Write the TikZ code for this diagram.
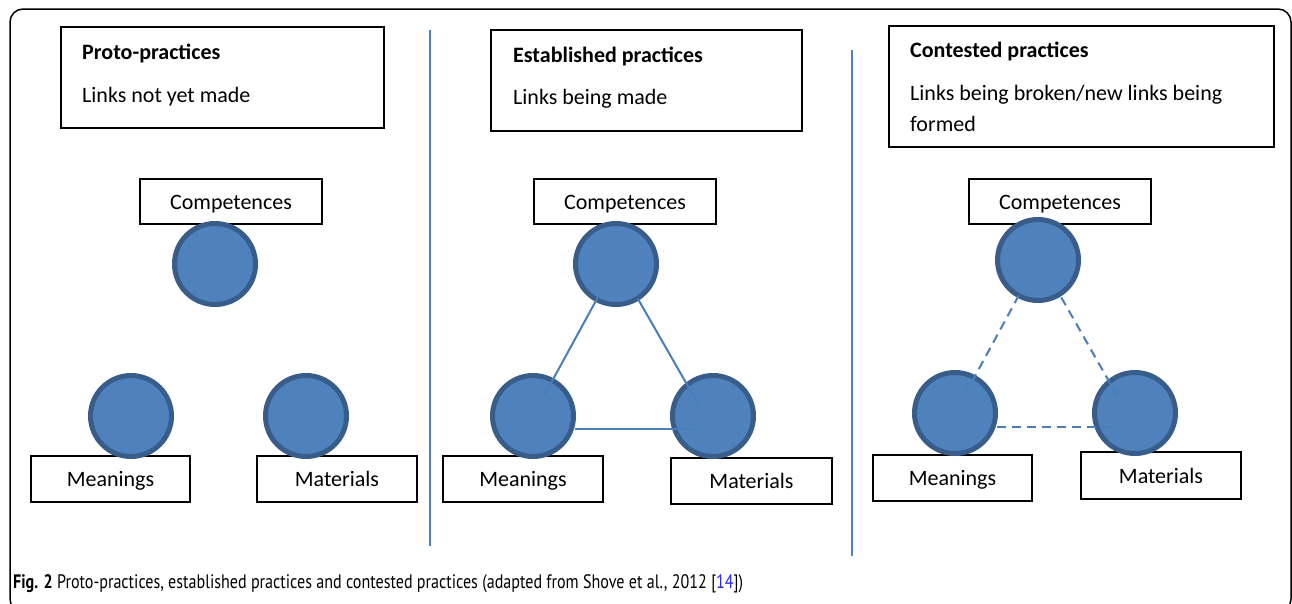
\documentclass[tikz,border=0pt]{standalone}
\usepackage{fontspec}
\setmainfont{Carlito}
\newfontfamily\capfont{PT Sans}
\definecolor{circfill}{RGB}{79,129,189}
\definecolor{circdraw}{RGB}{56,93,138}
\definecolor{linkblue}{RGB}{74,126,187}
\definecolor{refblue}{RGB}{40,40,230}
\begin{document}
\begin{tikzpicture}[x=1pt,y=-1pt,
  every node/.style={font=\fontsize{22}{26}\selectfont},
  labelbox/.style={draw=black,line width=1.5pt,fill=white,rectangle,inner sep=0pt,text height=17pt,text depth=2pt},
  headbox/.style={draw=black,line width=1.5pt,fill=white,rectangle,inner sep=0pt},
  headtext/.style={anchor=base west,inner sep=0pt},
  ball/.style={circle,fill=circfill,draw=circdraw,line width=5pt,minimum size=81pt,inner sep=0pt},
  divider/.style={draw=circfill,line width=2pt},
  link/.style={draw=linkblue,line width=2pt},
  brokenlink/.style={draw=linkblue,line width=2pt,dash pattern=on 9pt off 6pt}]
\useasboundingbox (0,0) rectangle (1292,603);
\draw[line width=1.5pt,rounded corners=13pt] (10,9) rectangle (1291,612);

% dividers
\coordinate (d1a) at (430,30); \coordinate (d1b) at (430,546);
\coordinate (d2a) at (852,50); \coordinate (d2b) at (852,556);
\draw[divider] (d1a) -- (d1b);
\draw[divider] (d2a) -- (d2b);

% heading boxes
\node[headbox,minimum width=323pt,minimum height=101pt] (h1) at (222.5,77.5) {};
\node[headtext,font=\fontsize{22}{26}\selectfont\bfseries] (h1t) at (82,59) {Proto-practices};
\node[headtext] (h1s) at (82,102) {Links not yet made};

\node[headbox,minimum width=311pt,minimum height=101pt] (h2) at (646.5,80.5) {};
\node[headtext,font=\fontsize{22}{26}\selectfont\bfseries] (h2t) at (513,62) {Established practices};
\node[headtext] (h2s) at (513,104) {Links being made};

\node[headbox,minimum width=385pt,minimum height=121pt] (h3) at (1081.5,86.5) {};
\node[headtext,font=\fontsize{22}{26}\selectfont\bfseries] (h3t) at (910,57) {Contested practices};
\node[headtext] (h3s) at (910,100) {Links being broken/new links being};
\node[headtext] (h3u) at (910,131) {formed};

% panel 1
\node[labelbox,minimum width=182pt,minimum height=45pt] (c1) at (231,201.5) {Competences};
\node[labelbox,minimum width=159pt,minimum height=46pt] (m1) at (110.5,479) {Meanings};
\node[labelbox,minimum width=160pt,minimum height=46pt] (a1) at (337,479) {Materials};
\node[ball] (t1) at (215,264) {};
\node[ball] (l1) at (131,416) {};
\node[ball] (r1) at (306,416) {};

% panel 2
\node[labelbox,minimum width=182pt,minimum height=45pt] (c2) at (625,201.5) {Competences};
\node[labelbox,minimum width=160pt,minimum height=46pt] (m2) at (523,479) {Meanings};
\node[labelbox,minimum width=161pt,minimum height=46pt] (a2) at (751.5,481) {Materials};
\node[ball] (t2) at (616,264) {};
\node[ball] (l2) at (533,416) {};
\node[ball] (r2) at (713,416) {};
\draw[link,shorten <=36pt,shorten >=22pt] (t2.center) -- (l2.center);
\draw[link,shorten <=40pt,shorten >=14pt] ([xshift=2pt]t2.center) -- ([xshift=-8pt]r2.center);
\draw[link,shorten <=42pt,shorten >=20pt] ([yshift=-13pt]l2.center) -- ([yshift=-13pt]r2.center);

% panel 3
\node[labelbox,minimum width=182pt,minimum height=45pt] (c3) at (1060,201.5) {Competences};
\node[labelbox,minimum width=159pt,minimum height=46pt] (m3) at (952.5,478) {Meanings};
\node[labelbox,minimum width=160pt,minimum height=47pt] (a3) at (1161,475.5) {Materials};
\node[ball] (t3) at (1038,260) {};
\node[ball] (l3) at (955,413) {};
\node[ball] (r3) at (1135,413) {};
\draw[brokenlink,shorten <=40pt,shorten >=25pt] (t3.center) -- (l3.center);
\draw[brokenlink,shorten <=43pt,shorten >=12pt] ([xshift=2pt]t3.center) -- ([xshift=-8pt]r3.center);
\draw[brokenlink,shorten <=42pt,shorten >=20pt] ([yshift=-14pt]l3.center) -- ([yshift=-14pt]r3.center);

% caption
\node[anchor=base west,inner sep=0pt,font=\capfont\fontsize{19.5}{23}\selectfont] (cap) at (13,588)
  {\scalebox{0.825}[1]{\textbf{Fig. 2} Proto-practices, established practices and contested practices (adapted from Shove et al., 2012 [\textcolor{refblue}{14}])}};
\end{tikzpicture}
\end{document}
